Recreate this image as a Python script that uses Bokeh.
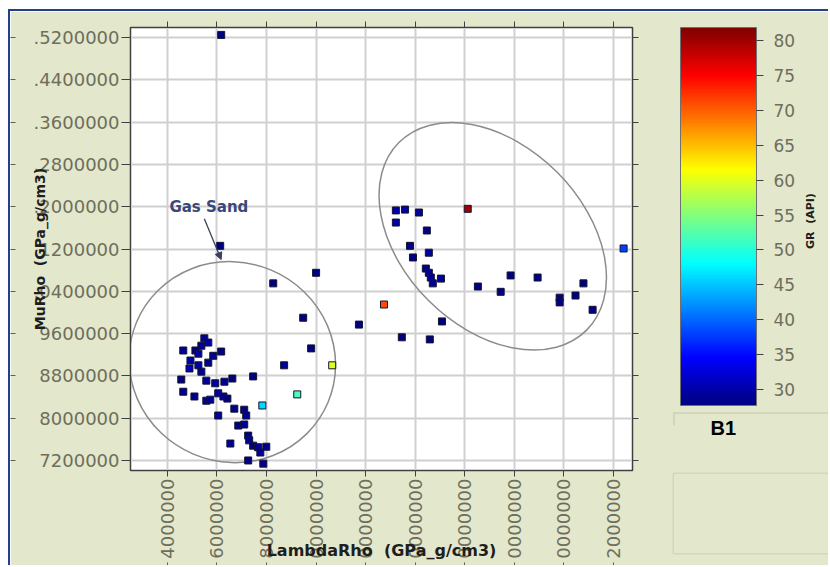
import numpy as np
from bokeh.plotting import figure
from bokeh.models import (Range1d, FixedTicker, LinearAxis, ColorBar, LinearColorMapper,
                          Label, Arrow, NormalHead, ColumnDataSource)
from bokeh.embed import file_html
from bokeh.resources import INLINE

# ---------------- data (LambdaRho, MuRho in millions; GR in API) ----------------
lambda_rho_m = [6.13, 10.00, 8.27, 9.48, 11.73, 9.80, 8.71, 10.65, 9.24, 7.83, 7.46,
                5.49, 5.65, 5.37, 5.13, 4.64, 6.17, 5.85, 5.25, 4.93, 5.65, 5.25, 4.89,
                5.37, 4.56, 5.57, 5.93, 6.30, 6.62, 4.64, 5.09, 5.57, 5.73, 6.05, 6.26,
                6.42, 6.70, 6.05, 7.10, 7.18, 6.86, 7.10, 6.54, 7.26, 7.30, 7.46, 7.66,
                7.99, 7.75, 7.26, 7.87, 6.17,
                13.22, 13.59, 14.15, 13.22, 16.12, 14.47, 13.79, 14.55, 13.91, 14.43,
                14.55, 14.63, 14.71, 15.04, 16.53, 17.85, 18.94, 17.45, 19.83, 19.83,
                20.47, 20.79, 21.16, 12.74, 15.08, 13.46, 14.59, 22.41]
mu_rho_m = [11.26, 10.75, 10.55, 9.90, 9.77, 9.32, 9.00, 9.00, 8.45, 8.24, 8.79,
            9.51, 9.43, 9.37, 9.28, 9.28, 9.26, 9.18, 9.22, 9.09, 9.05, 9.00, 8.94,
            8.88, 8.73, 8.71, 8.66, 8.69, 8.75, 8.50, 8.41, 8.33, 8.35, 8.47, 8.41,
            8.37, 8.18, 8.05, 8.16, 8.05, 7.86, 7.88, 7.52, 7.67, 7.58, 7.48, 7.45,
            7.46, 7.35, 7.20, 7.14, 15.25,
            11.93, 11.945, 11.89, 11.70, 11.96, 11.55, 11.26, 11.13, 11.04, 10.83,
            10.75, 10.66, 10.55, 10.64, 10.49, 10.70, 10.66, 10.39, 10.28, 10.19,
            10.32, 10.55, 10.05, 10.15, 9.83, 9.53, 9.49, 11.21]
gr_api = [28, 28, 28, 28, 28, 28, 29, 60, 52, 46, 28,
          29, 30, 29, 28, 29, 28, 29, 30, 30, 28, 30, 31,
          29, 28, 29, 30, 29, 28, 29, 28, 30, 29, 30, 29,
          28, 28, 29, 28, 29, 28, 29, 29, 28, 29, 28, 29,
          28, 29, 28, 29, 28,
          30, 30, 29, 30, 80, 28, 28, 29, 28, 28,
          29, 29, 29, 29, 28, 28, 28, 28, 28, 28,
          28, 28, 28, 71, 28, 28, 28, 38]

x_ticks = [4000000, 6000000, 8000000, 10000000, 12000000, 14000000,
           16000000, 18000000, 20000000, 22000000]
x_tick_labels = ["4000000", "6000000", "8000000", "0000000", "0000000", "0000000",
                 "0000000", "0000000", "0000000", "2000000"]
y_ticks = [15200000, 14400000, 13600000, 12800000, 12000000, 11200000,
           10400000, 9600000, 8800000, 8000000, 7200000]
y_tick_labels = [".5200000", ".4400000", ".3600000", ".2800000", ".2000000", ".1200000",
                 ".0400000", "9600000", "8800000", "8000000", "7200000"]
gr_ticks = [30, 35, 40, 45, 50, 55, 60, 65, 70, 75, 80]

# zones drawn on the crossplot (centre x, centre y, width, height in data units; angle rad)
zone_x = [6.62e6, 17.13e6]
zone_y = [9.06e6, 11.44e6]
zone_w = [8.38e6, 10.71e6]
zone_h = [3.78e6, 3.44e6]
zone_angle = [-0.4, -0.785]

# ---------------- styling ----------------
BG = "#e3e7cb"
PANEL_LINE = "#c4c8ab"
TICK_TXT = "#6e6e5c"
AX = "#404040"
FONT = "DejaVu Sans"


def jet(n=256):
    t = np.linspace(0, 1, n)
    r = np.clip(1.5 - np.abs(4 * t - 3), 0, 1)
    g = np.clip(1.5 - np.abs(4 * t - 2), 0, 1)
    b = np.clip(1.5 - np.abs(4 * t - 1), 0, 1)
    return ["#%02x%02x%02x" % (int(255 * a), int(255 * c), int(255 * d)) for a, c, d in zip(r, g, b)]


mapper = LinearColorMapper(palette=jet(), low=27.7, high=81.9)

p = figure(width=820, height=556, output_backend="svg", toolbar_location=None,
           x_range=Range1d(2.51e6, 22.77e6), y_range=Range1d(7.01e6, 15.39e6),
           min_border_left=119, min_border_right=198, min_border_top=16, min_border_bottom=97,
           background_fill_color="white", border_fill_color=BG)
p.styles = {"margin-left": "8px", "margin-top": "9px",
            "border-left": "2px solid #24408c", "border-top": "2px solid #24408c"}
p.outline_line_color = AX
p.outline_line_width = 1.5

xt = FixedTicker(ticks=x_ticks)
yt = FixedTicker(ticks=y_ticks)
p.xaxis.ticker = xt
p.yaxis.ticker = yt
p.xgrid.ticker = xt
p.ygrid.ticker = yt
p.xaxis.major_label_overrides = {k: v for k, v in zip(x_ticks, x_tick_labels)}
p.yaxis.major_label_overrides = {k: v for k, v in zip(y_ticks, y_tick_labels)}
for ax in (p.xaxis, p.yaxis):
    ax.major_label_text_font = FONT
    ax.major_label_text_font_size = "18px"
    ax.major_label_text_color = TICK_TXT
    ax.major_tick_in = 0
    ax.minor_tick_line_color = None
    ax.axis_line_color = AX
    ax.major_tick_line_color = AX
    ax.major_label_standoff = 2
    ax.axis_label_text_font = FONT
    ax.axis_label_text_font_style = "bold"
    ax.axis_label_text_color = "#1e1e1e"
p.xaxis.major_tick_out = 6
p.yaxis.major_tick_out = 9
p.xaxis.major_label_orientation = np.pi / 2
p.xaxis.axis_label = "LambdaRho \u00a0(GPa_g/cm3)"
p.xaxis.axis_label_text_font_size = "16px"
p.xaxis.axis_label_standoff = -21
p.yaxis.axis_label = "MuRho \u00a0(GPa_g/cm3)"
p.yaxis.axis_label_text_font_size = "14px"
p.yaxis.axis_label_standoff = -17

# tick-only frame axes (top, right)
for loc, tk in (("above", x_ticks), ("right", y_ticks)):
    ax = LinearAxis(ticker=FixedTicker(ticks=[], minor_ticks=tk), major_label_standoff=0,
                    major_tick_line_color=None, minor_tick_out=6, minor_tick_in=0,
                    minor_tick_line_color=AX, axis_line_color=AX)
    p.add_layout(ax, loc)

# outer rows of tick marks (left edge and bottom edge of the panel)
p.add_layout(LinearAxis(ticker=FixedTicker(ticks=[], minor_ticks=y_ticks), axis_line_color=None,
                        major_tick_line_color=None, minor_tick_out=18, minor_tick_in=-13,
                        minor_tick_line_color="#606050", major_label_standoff=0), "left")
p.add_layout(LinearAxis(ticker=FixedTicker(ticks=[], minor_ticks=x_ticks), axis_line_color=None,
                        major_tick_line_color=None, minor_tick_out=5, minor_tick_in=0,
                        minor_tick_line_color="#606050", major_label_standoff=0), "below")

# colour-bar title axis on the far right
gr_axis = LinearAxis(ticker=FixedTicker(ticks=[]), axis_line_color=None, major_tick_line_color=None,
                     minor_tick_line_color=None, major_label_standoff=0, major_tick_out=0,
                     axis_label="GR \u00a0(API)", axis_label_text_font=FONT,
                     axis_label_text_font_size="11px", axis_label_text_font_style="bold",
                     axis_label_text_color="#1e1e1e", axis_label_standoff=172)
if "axis_label_orientation" in LinearAxis.properties():
    gr_axis.axis_label_orientation = np.pi / 2
p.add_layout(gr_axis, "right")

for g in (p.xgrid, p.ygrid):
    g.grid_line_color = "#d0d0d0"
    g.grid_line_width = 2

# zones
p.ellipse(x=zone_x, y=zone_y, width=zone_w, height=zone_h, angle=zone_angle,
          fill_color=None, line_color="#8c8c8c", line_width=1.5)

src = ColumnDataSource(dict(x=[v * 1e6 for v in lambda_rho_m],
                            y=[v * 1e6 for v in mu_rho_m], gr=gr_api))
p.scatter("x", "y", source=src, marker="square", size=7,
          fill_color={"field": "gr", "transform": mapper},
          line_color="#141430", line_width=1)

# Gas Sand annotation
p.add_layout(Label(x=4.08e6, y=12.0e6, text="Gas Sand", text_font=FONT,
                   text_font_size="15px", text_font_style="bold", text_color="#3a4878",
                   text_baseline="middle", text_align="left"))
p.add_layout(Arrow(x_start=5.49e6, y_start=11.77e6, x_end=6.17e6, y_end=11.0e6,
                   line_color="#3a4060", line_width=1.3,
                   end=NormalHead(size=7, fill_color="#3a4060", line_color="#3a4060")))

# colour bar
cb = ColorBar(color_mapper=mapper, ticker=FixedTicker(ticks=gr_ticks), location=(550, 65),
              width=76, height=378, padding=0, margin=0,
              major_label_text_font=FONT, major_label_text_font_size="17px",
              major_label_text_color=TICK_TXT, major_tick_in=0, major_tick_out=7,
              major_tick_line_color=AX, label_standoff=10,
              bar_line_color="#707070", background_fill_alpha=0, border_line_color=None)
p.add_layout(cb)


def panel_piece(loc, w, h, fill, title=None, border=None, orientation="vertical"):
    """Plain panel piece (used for the side-panel frames and the well name)."""
    c = ColorBar(color_mapper=LinearColorMapper(palette=[fill], low=0, high=1),
                 ticker=FixedTicker(ticks=[]), location=loc, width=w, height=h,
                 orientation=orientation,
                 padding=0, margin=0, bar_line_color=None, background_fill_alpha=0,
                 border_line_color=border, border_line_width=1.5,
                 major_tick_line_color=None, minor_tick_line_color=None)
    if title is not None:
        c.title = title
        c.title_text_font = "Liberation Sans"
        c.title_text_font_size = "20px"
        c.title_text_font_style = "bold"
        c.title_text_color = "black"
        c.title_standoff = 0
    return c


p.add_layout(panel_piece((543, 57), 170, 1, PANEL_LINE))
p.add_layout(panel_piece((543, 45), 1, 13, PANEL_LINE))
p.add_layout(panel_piece((543, -83), 170, 80, BG, border=PANEL_LINE))
p.add_layout(panel_piece((580, 30), 30, 2, BG, title="B1", orientation="horizontal"))

open("out.html", "w").write(file_html(p, INLINE))
